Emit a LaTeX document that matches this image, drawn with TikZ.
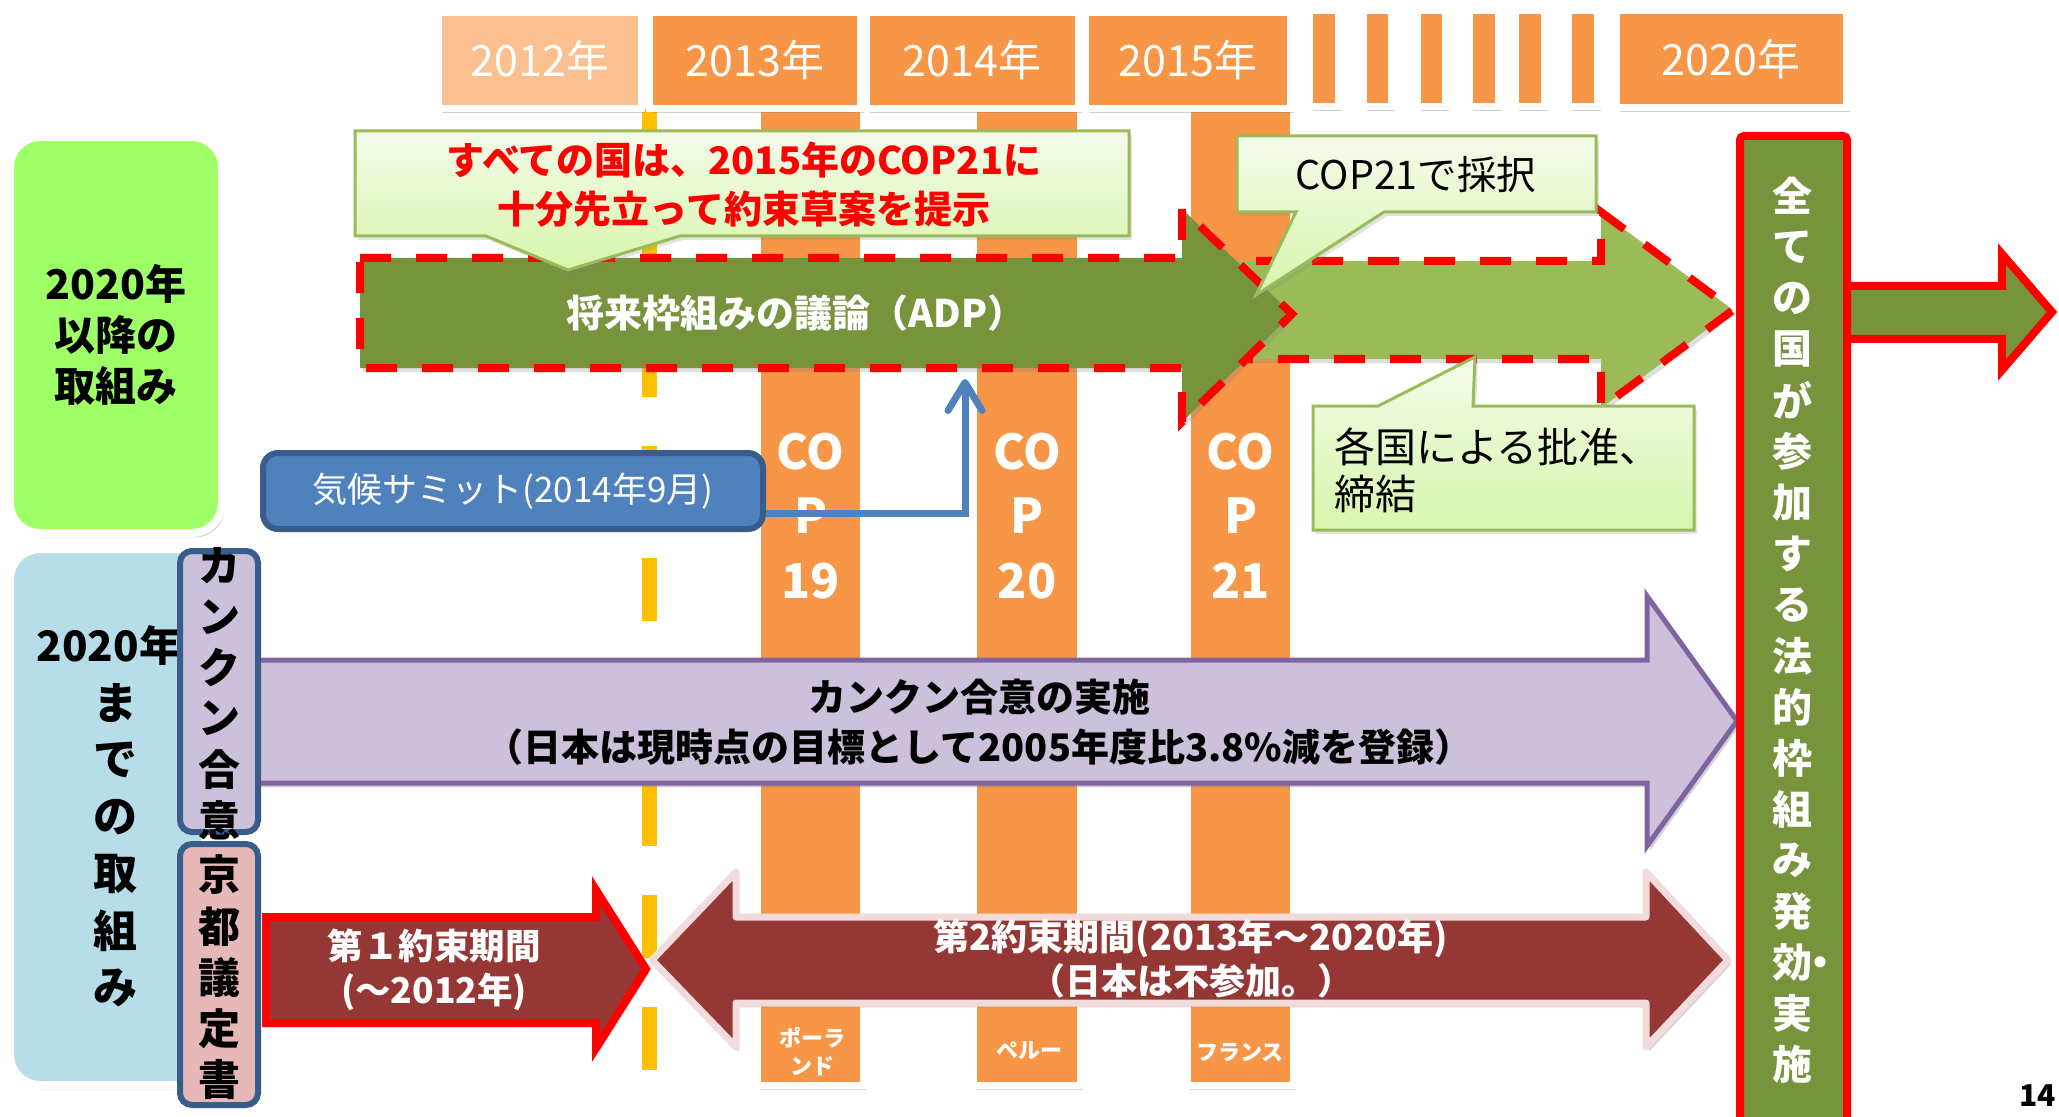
\documentclass[tikz,border=0pt]{standalone}
\usepackage{fontspec}
\setmainfont{Noto Sans CJK JP}
\usetikzlibrary{shadows,arrows.meta,calc}
\definecolor{orgL}{HTML}{FAC090}
\definecolor{org}{HTML}{F79646}
\definecolor{olive}{HTML}{77933C}
\definecolor{oliveL}{HTML}{9BBB59}
\definecolor{lgreen}{HTML}{9EFF66}
\definecolor{lblue}{HTML}{B7DDE8}
\definecolor{lpurple}{HTML}{CCC0DA}
\definecolor{dpurple}{HTML}{8064A2}
\definecolor{lpink}{HTML}{E6B9B8}
\definecolor{navy}{HTML}{385D8A}
\definecolor{sblue}{HTML}{4F81BD}
\definecolor{maroon}{HTML}{953735}
\definecolor{pinkline}{HTML}{F2DCDB}
\definecolor{yel}{HTML}{FFC000}
\definecolor{ctop}{HTML}{F4FBEA}
\definecolor{cbot}{HTML}{D8F5AC}
\definecolor{pptred}{HTML}{FF0000}
\tikzset{
  txt/.style={inner sep=0pt, outer sep=0pt},
  shd/.style={drop shadow={opacity=0.35, shadow xshift=1.5pt, shadow yshift=-2.2pt}},
  yearbox/.style={fill=org, draw=white, line width=3.5pt, shd},
  yeartext/.style={txt, text=white, font=\fontsize{21.5pt}{26pt}\selectfont},
  copcol/.style={fill=org, draw=white, line width=3.5pt, drop shadow={opacity=0.3, shadow xshift=1.2pt, shadow yshift=-2pt}},
  coptext/.style={txt, text=white, font=\fontsize{24pt}{28pt}\selectfont\bfseries},
  coploc/.style={txt, text=white, align=center, font=\fontsize{11pt}{14pt}\selectfont\bfseries},
  sidebox/.style={draw=white, line width=4pt, rounded corners=15pt, shd},
  sidetext/.style={txt, align=center, font=\fontsize{20.5pt}{25.5pt}\selectfont\bfseries},
  labelbox/.style={draw=navy, line width=3pt, rounded corners=6pt},
  vchar/.style={txt, font=\fontsize{21pt}{25pt}\selectfont\bfseries},
  bchar/.style={txt, font=\fontsize{22pt}{26pt}\selectfont\bfseries},
  rchar/.style={txt, text=white, font=\fontsize{20pt}{24pt}\selectfont\bfseries},
  dashedarrow/.style={draw=pptred, line width=4pt, dash pattern=on 15.5pt off 12.5pt, miter limit=20, drop shadow={opacity=0.25, shadow xshift=1.5pt, shadow yshift=-2pt}},
  callout/.style={top color=ctop, bottom color=cbot, draw=oliveL, line width=1.5pt, drop shadow={opacity=0.22, shadow xshift=1.5pt, shadow yshift=-2pt}},
  summitbox/.style={fill=sblue, draw=navy, line width=3pt, rounded corners=7.5pt, minimum width=250pt, minimum height=38pt, inner sep=0pt, text=white, font=\fontsize{17.5pt}{21pt}\selectfont},
  conn/.style={draw=sblue, line width=3.5pt, -{Straight Barb[length=14pt, width=17pt, round]}},
  whitebold/.style={txt, text=white, align=center, font=\fontsize{18pt}{22pt}\selectfont\bfseries},
}
\begin{document}
\begin{tikzpicture}[x=0.5pt,y=-0.5pt]
\useasboundingbox (0,0) rectangle (2059,1117);
\clip (0,0) rectangle (2059,1117);
\fill[white] (0,0) rectangle (2059,1117);

% COP columns
\path[copcol] (757.5,100) rectangle (863.5,1085.5);
\path[copcol] (973.5,100) rectangle (1080.5,1085.5);
\path[copcol] (1187.5,100) rectangle (1293.5,1085.5);

% yellow dashed line (2012/2013 boundary)
\draw[yel, line width=7.5pt, dash pattern=on 31.5pt off 24.65pt] (649.5,109) -- (649.5,1072);

% year header boxes
\path[yearbox, fill=orgL] (438.5,12.5) rectangle (641.5,108.5);
\path[yearbox] (649.5,12.5) rectangle (860.5,108.5);
\path[yearbox] (866.5,12.5) rectangle (1078.5,108.5);
\path[yearbox] (1085.5,12.5) rectangle (1290.5,108.5);
\foreach \a/\b in {1313/1335,1367/1388,1421/1442,1473/1495,1519/1541,1572/1594}
  \path[yearbox] ({\a-3.5},10.5) rectangle ({\b+3.5},106.5);
\path[yearbox] (1616.5,10.5) rectangle (1846.5,107.5);
\node[yeartext] (y2012) at (540,60) {2012年};
\node[yeartext] (y2013) at (755,60) {2013年};
\node[yeartext] (y2014) at (972,60) {2014年};
\node[yeartext] (y2015) at (1188,60) {2015年};
\node[yeartext] (y2020) at (1731,59) {2020年};

% COP texts
\foreach \x/\n/\k in {810.5/19/a,1027/20/b,1240.5/21/c}{
  \node[coptext] (co\k) at (\x,452) {CO};
  \node[coptext] (p\k) at (\x,516) {P};
  \node[coptext] (n\k) at (\x,581) {\n};
}
\node[coploc] (loc19) at (812,1052) {ポーラ\\ンド};
\node[coploc] (loc20) at (1029,1051) {ペルー};
\node[coploc] (loc21) at (1240,1053) {フランス};

% left side boxes
\path[sidebox, fill=lgreen] (10,137) rectangle (222,533);
\node[sidetext] (g1) at (116,335) {2020年\\以降の\\取組み};
\path[sidebox, fill=lblue] (10,549) rectangle (205,1085);
\node[txt, font=\fontsize{21pt}{25pt}\selectfont\bfseries] (b0) at (109,645) {2020年};
\foreach \c [count=\i] in {ま,で,の,取,組,み}
  \node[bchar] (b\i) at (115,{703+57*(\i-1)}) {\c};

% purple arrow (Cancun)
\draw[fill=lpurple, draw=dpurple, line width=2.5pt, shd] (250,660) -- (1647,660) -- (1647,596) -- (1737,721) -- (1647,846) -- (1647,783) -- (250,783) -- cycle;
\node[txt, align=center, font=\fontsize{19pt}{25pt}\selectfont\bfseries] (cancun) at (979,722) {カンクン合意の実施\\（日本は現時点の目標として2005年度比3.8\%減を登録）};

% Kyoto arrows
\draw[fill=maroon, draw=pptred, line width=4pt, shd] (266,917) -- (596,917) -- (596,890) -- (646,969) -- (596,1048) -- (596,1023) -- (266,1023) -- cycle;
\node[whitebold, font=\fontsize{17.75pt}{22pt}\selectfont\bfseries] (kp1) at (434,970) {第１約束期間\\(～2012年)};
\draw[fill=maroon, draw=pinkline, line width=3.5pt, line join=round, shd] (652,960) -- (736,872) -- (736,917) -- (1646,917) -- (1646,872) -- (1728,960) -- (1646,1047) -- (1646,1003) -- (736,1003) -- (736,1047) -- cycle;
\node[whitebold] (kp2) at (1191,959) {第2約束期間(2013年～2020年)\\（日本は不参加。）};

% label boxes
\path[labelbox, fill=lpurple] (180,551) rectangle (258,832);
\foreach \c [count=\i] in {カ,ン,ク,ン,合,意}
  \node[vchar] (kk\i) at (219,{566+50.8*(\i-1)}) {\c};
\path[labelbox, fill=lpink] (180,844) rectangle (258,1105);
\foreach \c [count=\i] in {京,都,議,定,書}
  \node[vchar] (ky\i) at (219,{875+51.2*(\i-1)}) {\c};

% ADP arrows
\path[dashedarrow, fill=oliveL] (1200,261) -- (1601,261) -- (1601,212) -- (1733,310) -- (1601,408) -- (1601,359) -- (1200,359) -- cycle;
\path[dashedarrow, fill=olive] (360,258) -- (1182,258) -- (1182,209) -- (1292,314) -- (1182,422) -- (1182,368) -- (360,368) -- cycle;
\node[txt, text=white, font=\fontsize{19pt}{23pt}\selectfont\bfseries] (adp) at (796,313) {将来枠組みの議論（ADP）};
\coordinate (adpin) at (965,379);

% callouts
\path[callout] (355,131) -- (1129,131) -- (1129,236) -- (680,236) -- (568,270) -- (486,236) -- (355,236) -- cycle;
\node[txt, text=pptred, align=center, font=\fontsize{19pt}{24.5pt}\selectfont\bfseries] (cl1) at (744,185) {すべての国は、2015年のCOP21に\\十分先立って約束草案を提示};
\path[callout] (1237,136) -- (1596,136) -- (1596,212) -- (1384,212) -- (1256,295) -- (1296,212) -- (1237,212) -- cycle;
\node[txt, font=\fontsize{19.75pt}{24pt}\selectfont] (cl2) at (1416,175) {COP21で採択};
\path[callout] (1313,406) -- (1378,406) -- (1475,357) -- (1473,406) -- (1694,406) -- (1694,530) -- (1313,530) -- cycle;
\node[txt, anchor=west, align=left, font=\fontsize{20.5pt}{23.5pt}\selectfont] (cl3) at (1334,470) {各国による批准、\\締結};

% climate summit
\node[summitbox] (summit) at (513,491) {気候サミット(2014年9月)};
\draw[conn] ($(summit.east)+(0,22)$) -| (adpin);

% final framework box and arrow
\draw[fill=olive, draw=pptred, line width=4pt] (1847,286) -- (2002,286) -- (2002,254) -- (2052,312) -- (2002,370) -- (2002,339) -- (1847,339);
\draw[fill=olive, draw=pptred, line width=4pt, rounded corners=2pt] (1740,136) rectangle (1847,1130);
\foreach \c [count=\i] in {全,て,の,国,が,参,加,す,る,法,的,枠,組,み,発,{効\rlap{\kern-0.3em ・}},実,施}
  \node[rchar] (r\i) at (1792,{196+51.1*(\i-1)}) {\c};

% page number
\node[txt, anchor=east, font=\fontsize{15pt}{18pt}\selectfont\bfseries] (pg) at (2056,1096) {14};
\end{tikzpicture}
\end{document}
